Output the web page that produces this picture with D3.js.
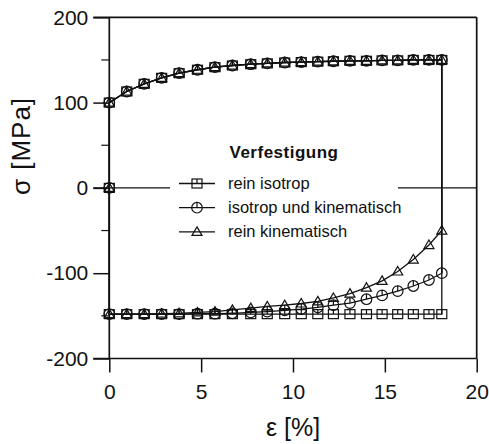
<!DOCTYPE html>
<html>
<head>
<meta charset="utf-8">
<script src="https://cdn.jsdelivr.net/npm/d3@7"></script>
<style>
  html, body { margin: 0; padding: 0; background: #fff; }
  svg { display: block; font-family: "Liberation Sans", Arial, Helvetica, sans-serif; }
</style>
</head>
<body>
<svg id="chart" width="489" height="444"></svg>
<script>
// Strain steps (%) shared by the loading and reverse-loading branches
const strain = [0, 0.95, 1.9, 2.85, 3.8, 4.8, 5.75, 6.7, 7.7, 8.6, 9.55,
                10.45, 11.35, 12.2, 13.1, 14.0, 14.85, 15.7, 16.55, 17.4, 18.1];

// Tension branch (identical for all three hardening models), MPa
const sigmaLoading = [100, 113, 122, 129, 134.5, 138.5, 141.5, 143.5, 145, 146, 147,
                      147.5, 148, 148.5, 149, 149, 149.5, 149.5, 150, 150, 150];

// Compression branch, MPa
const sigmaIsotrop = [-148, -148, -148, -148, -148, -148, -148, -148, -148, -148, -148,
                      -148, -148, -148, -148, -148, -148, -148, -148, -148, -148];
const sigmaMixed   = [-148, -148, -148, -148, -148, -147.5, -147.5, -147, -146, -145, -143.5,
                      -142, -140, -137.5, -135, -130.5, -126, -121, -115, -108, -100];
const sigmaKinem   = [-148, -148, -148, -147.5, -147, -146, -145, -143, -141, -139, -137.5,
                      -135.5, -133, -129, -124, -117, -109, -98, -84, -67, -50];

const seriesNames = ["rein isotrop", "isotrop und kinematisch", "rein kinematisch"];
const seriesMarks = ["square", "circle", "triangle"];
const legendTitle = "Verfestigung";

const xTicks = [0, 5, 10, 15, 20];
const yTicks = [-200, -100, 0, 100, 200];
const yMinor = [-150, -50, 50, 150];
const xTitle = "\u03B5 [%]";
const yTitle = "\u03C3 [MPa]";

const lower = [sigmaIsotrop, sigmaMixed, sigmaKinem];

const svg = d3.select("#chart");
const x = d3.scaleLinear().domain([0, 20]).range([109.3, 476.7]);
const y = d3.scaleLinear().domain([-200, 200]).range([358.5, 17.3]);

const font = '"Liberation Sans", Arial, Helvetica, sans-serif';
const ink = "#111";

// Zero reference line
svg.append("line")
  .attr("x1", x(0) - 16).attr("x2", x(20))
  .attr("y1", y(0)).attr("y2", y(0))
  .attr("stroke", ink).attr("stroke-width", 1.2);

// Left axis with major ticks
const yAxis = svg.append("g")
  .attr("transform", `translate(${x(0)},0)`)
  .call(d3.axisLeft(y).tickValues(yTicks).tickSize(16).tickSizeOuter(0).tickPadding(5)
        .tickFormat(d3.format("d")));
yAxis.select(".domain").remove();
yAxis.selectAll(".tick line").attr("stroke", ink).attr("stroke-width", 1.5);
yAxis.selectAll(".tick text")
  .attr("font-family", font).attr("font-size", 21).attr("fill", ink)
  .text(d => d < 0 ? "-" + Math.abs(d) : d);

// Minor ticks on the left axis
svg.append("g").selectAll("line").data(yMinor).join("line")
  .attr("x1", x(0) - 8).attr("x2", x(0))
  .attr("y1", d => y(d)).attr("y2", d => y(d))
  .attr("stroke", ink).attr("stroke-width", 1.2);

// Bottom axis
const xAxis = svg.append("g")
  .attr("transform", `translate(0,${y(-200)})`)
  .call(d3.axisBottom(x).tickValues(xTicks).tickSize(14).tickSizeOuter(0).tickPadding(12));
xAxis.select(".domain").remove();
xAxis.selectAll(".tick line").attr("stroke", ink).attr("stroke-width", 1.5);
xAxis.selectAll(".tick text")
  .attr("font-family", font).attr("font-size", 21).attr("fill", ink);

// Frame
const frame = svg.append("g").attr("fill", "none").attr("stroke", ink).attr("stroke-width", 1.7);
frame.append("line").attr("x1", x(0) - 16).attr("x2", x(20)).attr("y1", y(200)).attr("y2", y(200));
frame.append("line").attr("x1", x(0) - 16).attr("x2", x(20)).attr("y1", y(-200)).attr("y2", y(-200));
frame.append("line").attr("x1", x(0)).attr("x2", x(0)).attr("y1", y(200)).attr("y2", y(-200));
frame.append("line").attr("x1", x(20)).attr("x2", x(20)).attr("y1", y(200)).attr("y2", y(-200));

// Axis titles
svg.append("text")
  .attr("x", x(10)).attr("y", 436)
  .attr("text-anchor", "middle")
  .attr("font-family", font).attr("font-size", 25).attr("fill", ink)
  .text(xTitle);
svg.append("text")
  .attr("transform", `translate(30,146) rotate(-90)`)
  .attr("text-anchor", "middle")
  .attr("font-family", font).attr("font-size", 26).attr("fill", ink)
  .attr("letter-spacing", 1)
  .text(yTitle);

// Marker shapes
function drawMarker(g, kind, cx, cy) {
  const s = g.append("g").attr("transform", `translate(${cx},${cy})`)
    .attr("fill", "none").attr("stroke", ink).attr("stroke-width", 1.2);
  if (kind === "square") {
    s.append("rect").attr("x", -5).attr("y", -4.5).attr("width", 10).attr("height", 9);
    s.append("line").attr("x1", 0).attr("x2", 0).attr("y1", -4.5).attr("y2", 0);
  } else if (kind === "circle") {
    s.append("circle").attr("r", 5.3);
    s.append("line").attr("x1", 0).attr("x2", 0).attr("y1", -5.3).attr("y2", 0);
  } else {
    s.append("path").attr("d", "M0,-5L5,3.5L-5,3.5Z");
  }
}

const line = d3.line().x(d => x(d[0])).y(d => y(d[1]));
const plot = svg.append("g");

lower.forEach((low, i) => {
  const up = strain.map((e, k) => [e, sigmaLoading[k]]);
  const down = strain.map((e, k) => [e, low[k]]).reverse();
  const pts = [[0, 0], ...up, ...down, [0, 0]];
  plot.append("path")
    .attr("d", line(pts))
    .attr("fill", "none").attr("stroke", ink).attr("stroke-width", 1.3);
  const marks = [[0, 0], ...up, ...down];
  marks.forEach(p => drawMarker(plot, seriesMarks[i], x(p[0]), y(p[1])));
});

// Legend
const lg = svg.append("g");
lg.append("rect").attr("x", 170).attr("y", 140).attr("width", 228).attr("height", 105).attr("fill", "#fff");
lg.append("text")
  .attr("x", 284).attr("y", 157.5)
  .attr("text-anchor", "middle")
  .attr("font-family", font).attr("font-size", 17).attr("font-weight", "bold")
  .attr("letter-spacing", 0.5).attr("fill", ink)
  .text(legendTitle);
seriesNames.forEach((name, i) => {
  const ly = 183.5 + i * 24.2;
  lg.append("line").attr("x1", 179).attr("x2", 215).attr("y1", ly).attr("y2", ly)
    .attr("stroke", ink).attr("stroke-width", 1.3);
  drawMarker(lg, seriesMarks[i], 197, ly);
  lg.append("text")
    .attr("x", 228).attr("y", ly + 5.5)
    .attr("font-family", font).attr("font-size", 16.5).attr("fill", ink)
    .text(name);
});
</script>
</body>
</html>
